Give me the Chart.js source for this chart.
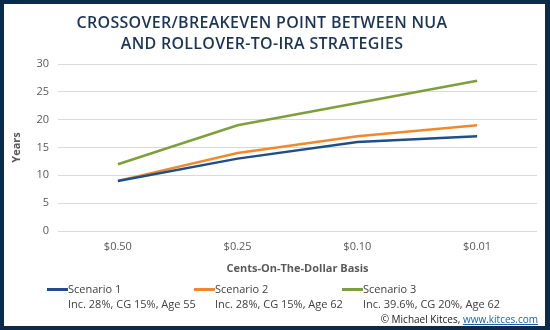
<!DOCTYPE html>
<html>
<head>
<meta charset="utf-8">
<script src="https://cdn.jsdelivr.net/npm/chart.js@4"></script>
<style>
  html, body { margin: 0; padding: 0; background: #fff; }
  #wrap { position: relative; width: 550px; height: 330px; overflow: hidden; font-family: "Open Sans", sans-serif; }
  #chart { position: absolute; left: 0; top: 0; }
  #frame { position: absolute; left: 0; top: 0; width: 550px; height: 330px; box-sizing: border-box;
           border-style: solid; border-color: #0c2a4b; border-width: 4px 5px 4px 4px; pointer-events: none; }
  #title { position: absolute; left: -13px; top: 12px; width: 550px; text-align: center; color: #1c3557;
           font-size: 16px; font-weight: 600; line-height: 21px; letter-spacing: 0.3px; }
  .legend-item { position: absolute; top: 281px; font-size: 11px; color: #404040; line-height: 15px; }
  .legend-item .swatch { position: absolute; left: -21px; top: 7px; width: 21px; height: 3px; }
  #credit { position: absolute; right: 12px; top: 312px; font-size: 10px; color: #222; }
  #credit span { color: #1f5fa8; text-decoration: underline; }
</style>
</head>
<body>
<div id="wrap">
  <canvas id="chart" width="550" height="330"></canvas>
  <div id="title">CROSSOVER/BREAKEVEN POINT BETWEEN NUA<br>AND ROLLOVER-TO-IRA STRATEGIES</div>
  <div id="legend"></div>
  <div id="credit">© Michael Kitces, <span>www.kitces.com</span></div>
  <div id="frame"></div>
</div>
<script>
const categories = ['$0.50', '$0.25', '$0.10', '$0.01'];
const scenario1 = [9, 13, 16, 17];
const scenario2 = [9, 14, 17, 19];
const scenario3 = [12, 19, 23, 27];
const seriesNames = ['Scenario 1', 'Scenario 2', 'Scenario 3'];
const seriesNotes = ['Inc. 28%, CG 15%, Age 55', 'Inc. 28%, CG 15%, Age 62', 'Inc. 39.6%, CG 20%, Age 62'];
const seriesColors = ['#1f4e89', '#f0892e', '#7f9f3d'];

const tickFont = { family: 'Open Sans', size: 11 };

function makeSet(i, values) {
    return {
        label: seriesNames[i],
        data: values,
        borderColor: seriesColors[i],
        backgroundColor: seriesColors[i],
        borderWidth: 2.5,
        pointRadius: 0,
        tension: 0
    };
}

const chart = new Chart(document.getElementById('chart'), {
    type: 'line',
    data: {
        labels: categories,
        datasets: [makeSet(0, scenario1), makeSet(1, scenario2), makeSet(2, scenario3)]
    },
    options: {
        responsive: false,
        animation: false,
        layout: { padding: { top: 64, right: 13, bottom: 55, left: 0 } },
        plugins: { legend: { display: false }, tooltip: { enabled: false } },
        scales: {
            x: {
                offset: true,
                grid: { display: false, drawTicks: false },
                border: { display: false },
                ticks: { color: '#595959', font: tickFont, padding: 9 },
                title: { display: true, text: 'Cents-On-The-Dollar Basis', color: '#595959',
                         font: { family: 'Open Sans', size: 11, weight: 'bold' }, padding: { top: 2, bottom: 0 } },
                afterFit: function(scale) { scale.height = 44; }
            },
            y: {
                min: 0,
                max: 30,
                ticks: { stepSize: 5, color: '#595959', font: tickFont, padding: 9 },
                grid: { color: '#d9d9d9', lineWidth: 1, drawTicks: false },
                border: { display: false },
                title: { display: true, text: 'Years', color: '#595959',
                         font: { family: 'Open Sans', size: 11, weight: 'bold' }, padding: { top: 10, bottom: 0 } },
                afterFit: function(scale) { scale.width = 58; }
            }
        }
    }
});

// legend below the axis: line swatch followed by two lines of text
const legend = document.getElementById('legend');
const legendLeft = [68, 215, 363];
seriesNames.forEach(function(name, i) {
    const item = document.createElement('div');
    item.className = 'legend-item';
    item.style.left = legendLeft[i] + 'px';
    item.innerHTML = '<div class="swatch" style="background:' + seriesColors[i] + '"></div>' +
        name + '<br>' + seriesNotes[i];
    legend.appendChild(item);
});
</script>
</body>
</html>
